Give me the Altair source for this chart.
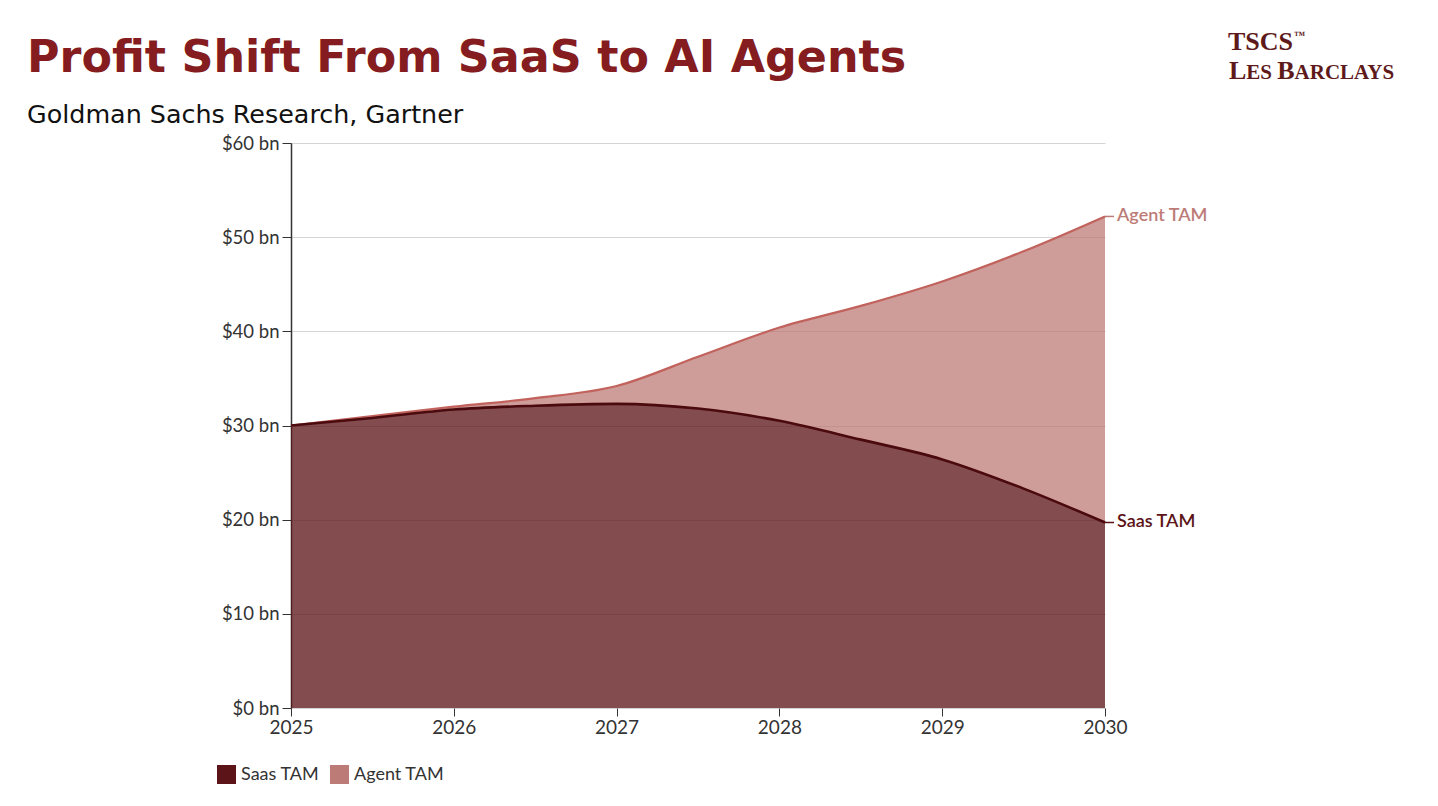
import altair as alt
import pandas as pd

# ---- data ----
years = [2025, 2025.5, 2026, 2026.5, 2027, 2027.5, 2028, 2028.5, 2029, 2029.5, 2030]
saas_tam = [30.0, 30.8, 31.7, 32.1, 32.3, 31.8, 30.5, 28.5, 26.4, 23.3, 19.7]
agent_tam = [0.0, 0.2, 0.3, 0.8, 1.9, 5.5, 9.9, 14.2, 18.9, 25.2, 32.5]
series_names = ["Saas TAM", "Agent TAM"]
y_ticks = [0, 10, 20, 30, 40, 50, 60]
x_ticks = [2025, 2026, 2027, 2028, 2029, 2030]

title_text = "Profit Shift From SaaS to AI Agents"
subtitle_text = "Goldman Sachs Research, Gartner"

rows = []
for yr, s, a in zip(years, saas_tam, agent_tam):
    rows.append({"year": yr, "series": "Saas TAM", "lo": 0.0, "hi": s})
    rows.append({"year": yr, "series": "Agent TAM", "lo": s, "hi": s + a})
df = pd.DataFrame(rows)

end_labels = pd.DataFrame({
    "year": [years[-1], years[-1]],
    "value": [saas_tam[-1] + agent_tam[-1], saas_tam[-1]],
    "label": ["Agent TAM", "Saas TAM"],
})
label_colors = alt.Scale(domain=["Agent TAM", "Saas TAM"], range=["#c07873", "#3a1c1c"])

x_enc = alt.X("year:Q", scale=alt.Scale(domain=[2025, 2030], nice=False, zero=False),
              axis=alt.Axis(values=x_ticks, format="d", title=None, grid=False, labelFlush=False,
                            labelFontSize=19, labelColor="#333333", labelFont="Lato",
                            tickColor="#333333", tickSize=8, domain=False, labelPadding=2))
y_axis = alt.Axis(values=y_ticks, title=None, labelExpr="'$' + datum.value + ' bn'",
                  labelFontSize=18.5, labelColor="#333333", labelFont="Lato",
                  tickColor="#333333", tickSize=9, domainColor="#333333", domainWidth=1.5,
                  gridColor="#d4d4d4", gridWidth=1, labelPadding=3)
y_scale = alt.Scale(domain=[0, 60], nice=False)

base = alt.Chart(df)

areas = base.mark_area(interpolate="monotone").encode(
    x=x_enc,
    y=alt.Y("hi:Q", scale=y_scale, axis=y_axis),
    y2="lo:Q",
    color=alt.Color("series:N", scale=alt.Scale(domain=series_names, range=["#5c1418", "#bd7b77"]),
                    legend=alt.Legend(orient="none", legendX=-74, legendY=622, direction="horizontal",
                                      title=None, symbolType="square", symbolSize=361,
                                      symbolStrokeWidth=0, labelFontSize=18, labelFont="Lato",
                                      labelColor="#333333", columnPadding=10, labelOffset=5,
                                      symbolOpacity=1)),
    opacity=alt.Opacity("series:N", scale=alt.Scale(domain=series_names, range=[0.76, 0.75]), legend=None),
    detail="series:N",
)

agent_line = base.transform_filter(alt.datum.series == "Agent TAM").mark_line(
    interpolate="monotone", color="#c2625c", strokeWidth=2.2
).encode(x="year:Q", y="hi:Q")

saas_line = base.transform_filter(alt.datum.series == "Saas TAM").mark_line(
    interpolate="monotone", color="#4a0a0e", strokeWidth=2.6
).encode(x="year:Q", y="hi:Q")

connectors = alt.Chart(end_labels).mark_rule(strokeWidth=1.5, x2Offset=9).encode(
    x="year:Q", x2="year:Q", y="value:Q",
    color=alt.Color("label:N", scale=label_colors, legend=None),
)

labels = alt.Chart(end_labels).mark_text(align="left", baseline="middle", dx=12, fontSize=18,
                                         font="Lato", fontWeight=600).encode(
    x="year:Q", y="value:Q", text="label:N",
    color=alt.Color("label:N", scale=label_colors, legend=None),
)

def txt(t, x, y, **kw):
    return alt.Chart(pd.DataFrame({"t": [t]})).mark_text(align="left", baseline="alphabetic", **kw).encode(
        x=alt.value(x), y=alt.value(y), text="t:N")

logo_color = "#5e1a1a"
title = txt(title_text, -264, -71, fontSize=44.4, font="DejaVu Sans", fontWeight="bold", color="#841c20")
subtitle = txt(subtitle_text, -264, -20, fontSize=25.4, font="DejaVu Sans", fontWeight="normal", color="#111111")
logo_parts = [
    txt("TSCS", 937, -93, fontSize=26, font="Liberation Serif", fontWeight="bold", color=logo_color),
    txt("\u2122", 1003, -104, fontSize=11, font="Liberation Serif", fontWeight="bold", color=logo_color),
    txt("L", 938, -64, fontSize=26, font="Liberation Serif", fontWeight="bold", color=logo_color),
    txt("ES", 955.3, -64, fontSize=21, font="Liberation Serif", fontWeight="bold", color=logo_color),
    txt("B", 986.3, -64, fontSize=26, font="Liberation Serif", fontWeight="bold", color=logo_color),
    txt("ARCLAYS", 1003.6, -64, fontSize=21, font="Liberation Serif", fontWeight="bold", color=logo_color),
]

chart = alt.layer(areas, agent_line, saas_line, connectors, labels, title, subtitle, *logo_parts).properties(
    width=814, height=565,
    autosize=alt.AutoSizeParams(type="none"),
    padding={"left": 283, "top": 135, "right": 310, "bottom": 80},
    background="white",
).configure_view(stroke=None)

chart.save("out.html", embed_options={"renderer": "svg", "actions": False})
